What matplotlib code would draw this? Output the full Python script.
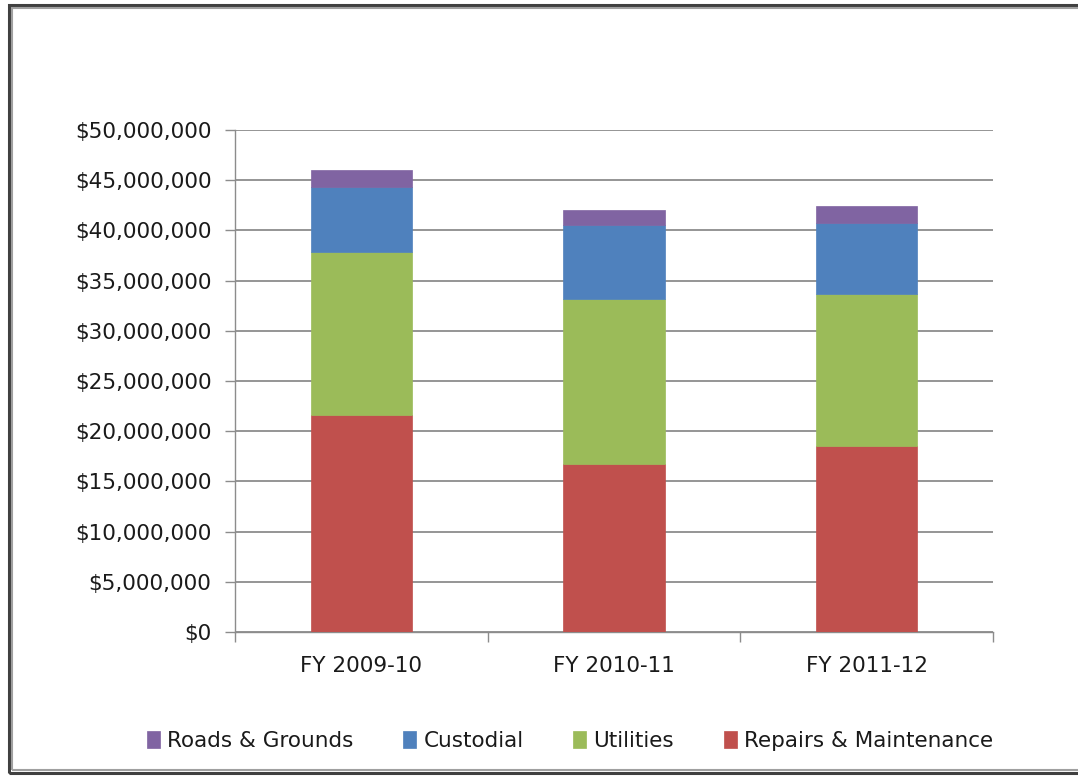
import matplotlib.pyplot as plt
import matplotlib.ticker as mticker
from matplotlib.patches import Rectangle
import numpy as np

years = ['FY 2009-10', 'FY 2010-11', 'FY 2011-12']
repairs = [21600000, 16700000, 18500000]
utilities = [16200000, 16500000, 15200000]
custodial = [6500000, 7300000, 7000000]
roads = [1700000, 1500000, 1700000]

series = [
    ('Repairs & Maintenance', repairs, '#C0504D'),
    ('Utilities', utilities, '#9BBB59'),
    ('Custodial', custodial, '#4F81BD'),
    ('Roads & Grounds', roads, '#8064A2'),
]

plt.rcParams['font.family'] = 'DejaVu Sans'
plt.rcParams['text.color'] = '#1a1a1a'

fig = plt.figure(figsize=(10.78, 7.76), dpi=100)
ax = fig.add_axes([235 / 1078, 1 - 632 / 776, 758 / 1078, 502 / 776])

x = np.arange(len(years))
bottom = np.zeros(len(years))
bars = {}
for name, vals, color in series:
    bars[name] = ax.bar(x, vals, width=0.4, bottom=bottom, color=color,
                        edgecolor=color, linewidth=0.5, zorder=3, label=name)
    bottom += np.array(vals)

ax.set_xlim(-0.5, 2.5)
ax.set_ylim(0, 50000000)
ax.yaxis.set_major_locator(mticker.MultipleLocator(5000000))
ax.yaxis.set_major_formatter(mticker.StrMethodFormatter('${x:,.0f}'))
ax.grid(axis='y', color='#8c8c8c', linewidth=1.3, zorder=0)

# category boundaries get the tick marks, labels sit between them
ax.set_xticks([-0.5, 0.5, 1.5, 2.5])
ax.set_xticklabels([])
ax.set_xticks(x, minor=True)
ax.set_xticklabels(years, minor=True)
ax.tick_params(axis='x', which='major', length=7, color='#8c8c8c', width=1)
ax.tick_params(axis='x', which='minor', length=0, pad=17, labelsize=15.5,
               labelcolor='#1a1a1a')
ax.tick_params(axis='y', length=7, color='#8c8c8c', width=1, pad=10,
               labelsize=15.5, labelcolor='#1a1a1a')

for side in ['top', 'right']:
    ax.spines[side].set_visible(False)
for side in ['left', 'bottom']:
    ax.spines[side].set_color('#8c8c8c')
    ax.spines[side].set_linewidth(1)

handles = [bars[n] for n in ['Roads & Grounds', 'Custodial', 'Utilities',
                             'Repairs & Maintenance']]
fig.legend(handles, [h.get_label() for h in handles], loc='center',
           bbox_to_anchor=(570 / 1078, 1 - 741 / 776), ncol=4, frameon=False,
           fontsize=15.5, handlelength=0.6, handleheight=0.8,
           handletextpad=0.35, columnspacing=2.3)

# double frame around the chart area
fig.patches.append(Rectangle((9 / 1078, 3 / 776), 1.1, 1 - 8 / 776,
                             transform=fig.transFigure, fill=False,
                             edgecolor='#404040', linewidth=2.2))
fig.patches.append(Rectangle((12 / 1078, 6 / 776), 1.1, 1 - 14 / 776,
                             transform=fig.transFigure, fill=False,
                             edgecolor='#a0a0a0', linewidth=1.5))

fig.savefig('out.png', dpi=100)
